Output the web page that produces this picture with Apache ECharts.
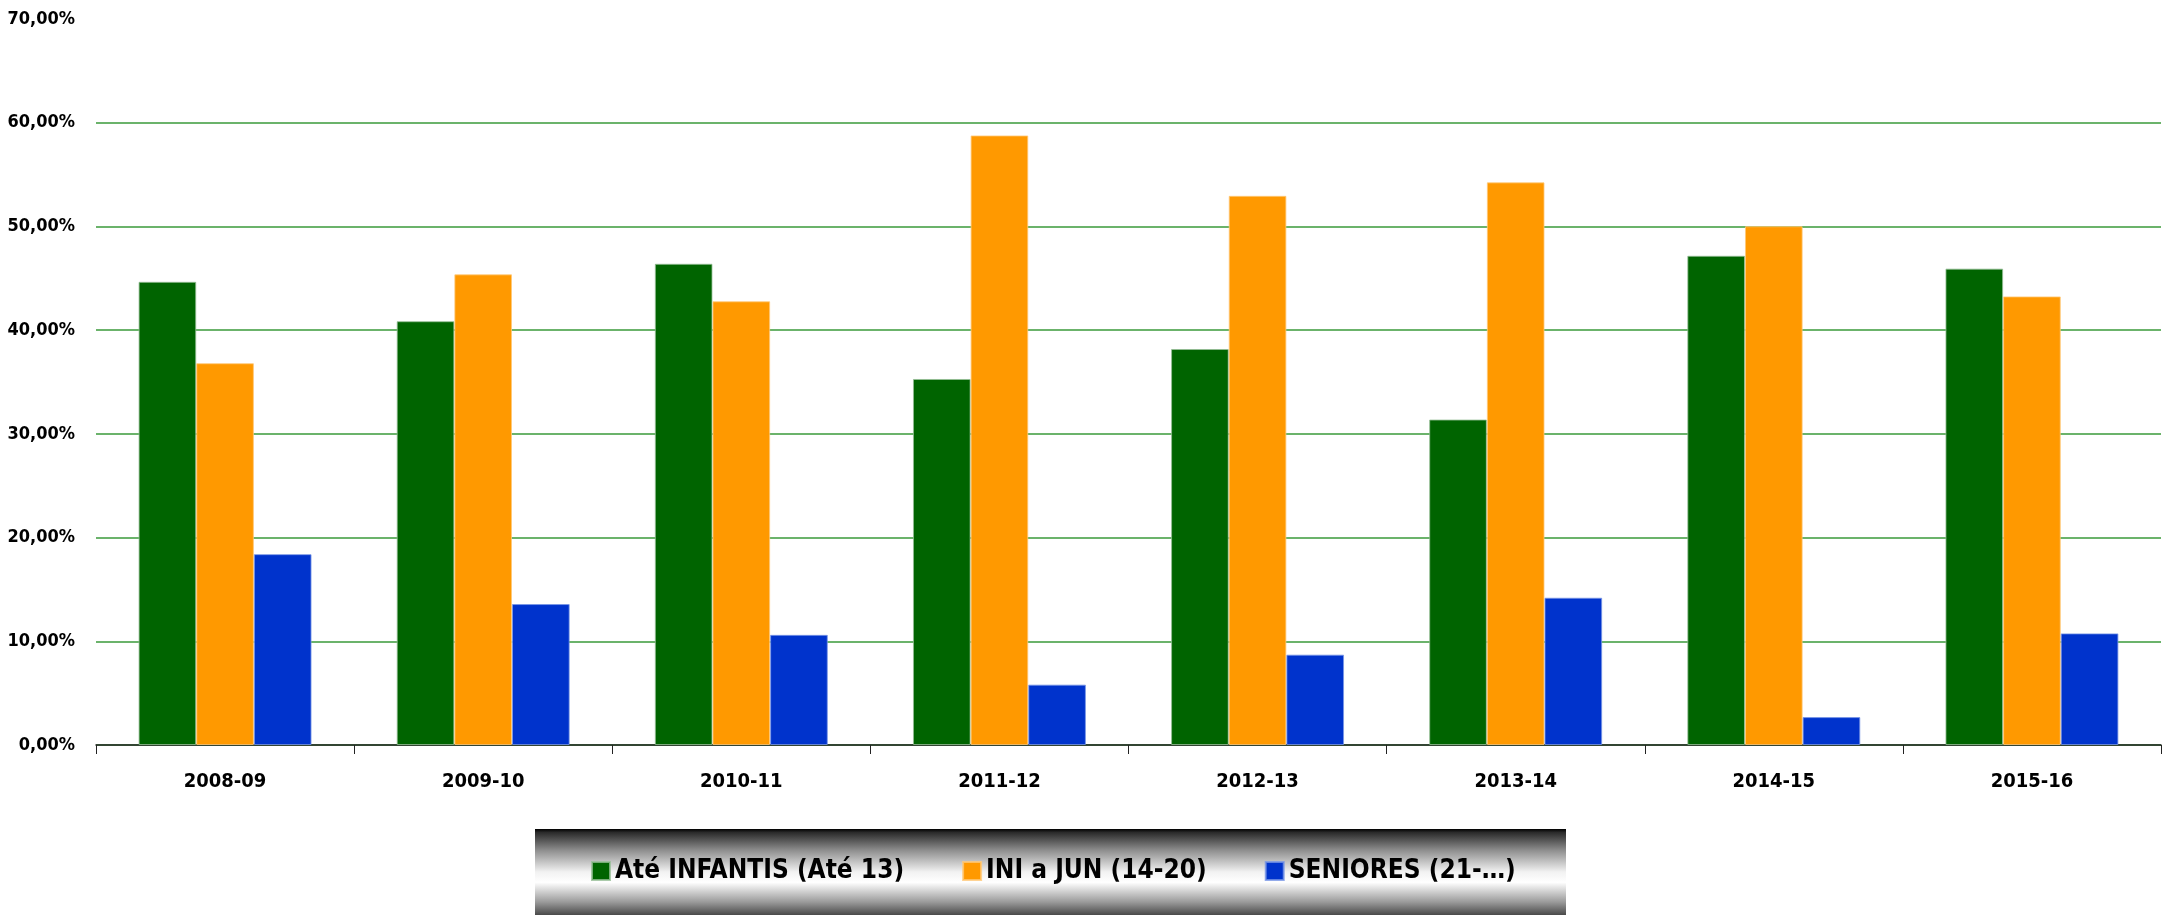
<!DOCTYPE html>
<html>
<head>
<meta charset="utf-8">
<title>Escalões</title>
<script src="https://cdn.jsdelivr.net/npm/echarts@6/dist/echarts.min.js"></script>
<style>
  html, body { margin: 0; padding: 0; background: #fff; }
  #chart { width: 2164px; height: 915px; }
</style>
</head>
<body>
<div id="chart"></div>
<script>
// épocas
const epocas = ["2008-09", "2009-10", "2010-11", "2011-12", "2012-13", "2013-14", "2014-15", "2015-16"];
// percentagens por escalão (%)
const infantis = [44.66, 40.86, 46.40, 35.29, 38.18, 31.38, 47.17, 45.93];
const iniJun = [36.81, 45.38, 42.78, 58.77, 52.95, 54.25, 50.02, 43.25];
const seniores = [18.40, 13.59, 10.62, 5.82, 8.71, 14.20, 2.69, 10.76];
const nomes = ["Até INFANTIS (Até 13)", "INI a JUN (14-20)", "SENIORES (21-…)"];

const fonte = '"DejaVu Sans Condensed", "Liberation Sans Narrow", sans-serif';
const chart = echarts.init(document.getElementById("chart"));

function barra(nome, dados, cor, borda) {
  return {
    name: nome,
    type: "bar",
    data: dados,
    barGap: "0%",
    barCategoryGap: "33%",
    itemStyle: { color: cor, borderColor: borda, borderWidth: 1 },
  };
}

const option = {
  animation: false,
  backgroundColor: "#fff",
  grid: { left: 96, right: 3, top: 19, bottom: 170, outerBoundsMode: "none" },
  // fundo da legenda (efeito cilíndrico)
  graphic: [
    {
      type: "rect",
      left: 535,
      top: 829,
      shape: { width: 1031, height: 86 },
      style: {
        fill: new echarts.graphic.LinearGradient(0, 0, 0, 1, [
          { offset: 0, color: "#000" },
          { offset: 0.04, color: "#2a2a2a" },
          { offset: 0.25, color: "#8f8f8f" },
          { offset: 0.5, color: "#f2f2f2" },
          { offset: 0.62, color: "#ffffff" },
          { offset: 0.85, color: "#9a9a9a" },
          { offset: 1, color: "#4a4a4a" },
        ]),
      },
      z: 0,
    },
  ],
  legend: {
    data: nomes,
    left: 591,
    top: 858,
    padding: 0,
    itemGap: 58,
    itemWidth: 18,
    itemHeight: 18,
    icon: "rect",
    z: 10,
    textStyle: { fontFamily: fonte, fontWeight: "bold", fontSize: 26, color: "#000" },
  },
  xAxis: {
    type: "category",
    data: epocas,
    axisLine: { lineStyle: { color: "#222", width: 1.5 } },
    axisTick: { show: true, length: 9, lineStyle: { color: "#222" } },
    axisLabel: {
      margin: 27,
      fontFamily: fonte,
      fontWeight: "bold",
      fontSize: 20,
      color: "#000",
    },
  },
  yAxis: {
    type: "value",
    min: 0,
    max: 70,
    interval: 10,
    axisLine: { show: false },
    axisTick: { show: false },
    axisLabel: {
      margin: 21,
      fontFamily: fonte,
      fontWeight: "bold",
      fontSize: 18,
      color: "#000",
      formatter: (v) => v.toFixed(2).replace(".", ",") + "%",
    },
    splitLine: { showMaxLine: false, lineStyle: { color: "#3a9a3a", width: 1.5 } },
  },
  series: [
    barra(nomes[0], infantis, "#006400", "rgba(150,190,150,0.8)"),
    barra(nomes[1], iniJun, "#ff9900", "rgba(255,200,120,0.8)"),
    barra(nomes[2], seniores, "#0033cc", "rgba(120,150,230,0.8)"),
  ],
};
chart.setOption(option);
</script>
</body>
</html>
